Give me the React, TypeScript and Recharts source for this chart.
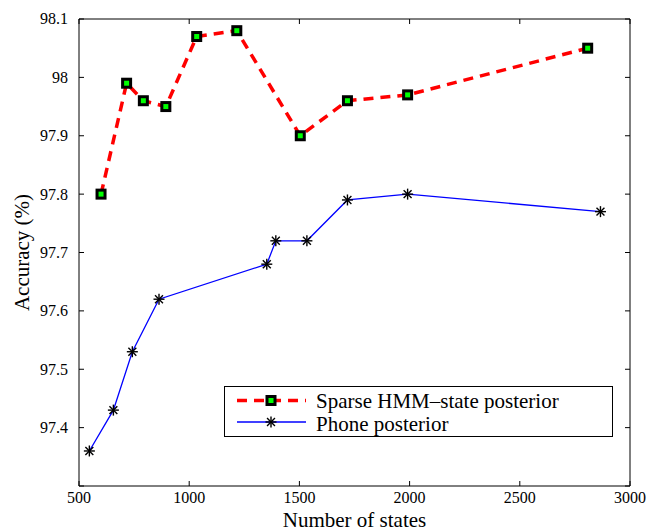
import { Legend, Line, LineChart, XAxis, YAxis } from "recharts";

const sparseStates = [600, 716, 792, 894, 1034, 1216, 1504, 1718, 1991, 2808];
const sparseAcc = [97.8, 97.99, 97.96, 97.95, 98.07, 98.08, 97.9, 97.96, 97.97, 98.05];

const phoneStates = [547, 656, 742, 863, 1352, 1393, 1534, 1718, 1991, 2866];
const phoneAcc = [97.36, 97.43, 97.53, 97.62, 97.68, 97.72, 97.72, 97.79, 97.8, 97.77];

const xTicks = [500, 1000, 1500, 2000, 2500, 3000];
const yTicks = [97.3, 97.4, 97.5, 97.6, 97.7, 97.8, 97.9, 98, 98.1];

const sparseData = sparseStates.map((x, i) => ({ x, y: sparseAcc[i] }));
const phoneData = phoneStates.map((x, i) => ({ x, y: phoneAcc[i] }));

const font = "Liberation Serif, DejaVu Serif, serif";
const labelStyle = { fill: "#000", fontSize: 21, fontFamily: font };

const fmt = (v: number) => (v === 97.3 ? "" : String(Math.round(v * 10) / 10));

// serif tick labels, drawn at the positions recharts hands over
const XTick = (props: any) => {
  const { x, y, payload } = props;
  return (
    <text x={x} y={y} dy="0.7em" textAnchor="middle" fill="#000" fontSize={16} style={{ fontFamily: font }}>
      {payload.value}
    </text>
  );
};

const YTick = (props: any) => {
  const { x, y, payload } = props;
  return (
    <text x={x} y={y} dy="0.34em" textAnchor="end" fill="#000" fontSize={16} style={{ fontFamily: font }}>
      {fmt(payload.value)}
    </text>
  );
};

const SquareDot = (props: any) => {
  const { cx, cy } = props;
  if (cx == null || cy == null) return null;
  return (
    <g>
      <rect x={cx - 5.5} y={cy - 5.5} width={11} height={11} fill="#000" />
      <rect x={cx - 2.5} y={cy - 2.5} width={5} height={5} fill="#00ff00" />
    </g>
  );
};

const StarDot = (props: any) => {
  const { cx, cy } = props;
  if (cx == null || cy == null) return null;
  const r = 5.5;
  const d = r * 0.72;
  return (
    <g stroke="#000" strokeWidth={1.4}>
      <line x1={cx} y1={cy - r} x2={cx} y2={cy + r} />
      <line x1={cx - r} y1={cy} x2={cx + r} y2={cy} />
      <line x1={cx - d} y1={cy - d} x2={cx + d} y2={cy + d} />
      <line x1={cx - d} y1={cy + d} x2={cx + d} y2={cy - d} />
    </g>
  );
};

const LegendBox = () => (
  <div
    style={{
      border: "1px solid #000",
      background: "#fff",
      width: 387,
      height: 49,
    }}
  >
    <svg width={389} height={51} style={{ position: "absolute", left: 0, top: 0 }}>
      <line x1={13} y1={14.5} x2={82} y2={14.5} stroke="#ff0000" strokeWidth={3.5} strokeDasharray="10 7" />
      <SquareDot cx={47} cy={14.5} />
      <line x1={13} y1={36} x2={82} y2={36} stroke="#0000ff" strokeWidth={1.3} />
      <StarDot cx={47} cy={36} />
      <text x={92} y={22} fontSize={21} fill="#000" style={{ fontFamily: font }}>
        Sparse HMM–state posterior
      </text>
      <text x={92} y={45} fontSize={21} fill="#000" style={{ fontFamily: font }}>
        Phone posterior
      </text>
    </svg>
  </div>
);

export default function App() {
  return (
    <div style={{ position: "absolute", left: 0, top: 0, background: "#fff", fontFamily: font }}>
      <LineChart width={648} height={532} margin={{ top: 0, right: 0, bottom: 0, left: 0 }} style={{ fontFamily: font }}>
        <XAxis
          xAxisId="b"
          type="number"
          dataKey="x"
          domain={[500, 3000]}
          ticks={xTicks}
          allowDataOverflow
          height={46}
          stroke="#000"
          tickSize={-5}
          tickMargin={11}
          tick={<XTick />}
          label={{
            value: "Number of states",
            position: "insideBottom",
            offset: 5,
            style: labelStyle,
          }}
        />
        <XAxis
          xAxisId="t"
          orientation="top"
          type="number"
          dataKey="x"
          domain={[500, 3000]}
          ticks={xTicks}
          allowDataOverflow
          height={19}
          stroke="#000"
          tickSize={-5}
          tickFormatter={() => ""}
        />
        <YAxis
          yAxisId="l"
          type="number"
          dataKey="y"
          domain={[97.3, 98.1]}
          ticks={yTicks}
          allowDataOverflow
          width={79}
          stroke="#000"
          tickSize={-5}
          tickMargin={16}
          tick={<YTick />}
          label={{
            value: "Accuracy (%)",
            angle: -90,
            position: "center",
            dx: -18,
            style: labelStyle,
          }}
        />
        <YAxis
          yAxisId="r"
          orientation="right"
          type="number"
          dataKey="y"
          domain={[97.3, 98.1]}
          ticks={yTicks}
          allowDataOverflow
          width={18}
          stroke="#000"
          tickSize={-5}
          tickFormatter={() => ""}
        />
        <Line
          xAxisId="b"
          yAxisId="l"
          data={sparseData}
          dataKey="y"
          name="Sparse HMM–state posterior"
          type="linear"
          stroke="#ff0000"
          strokeWidth={3.5}
          strokeDasharray="10 7"
          dot={<SquareDot />}
          isAnimationActive={false}
        />
        <Line
          xAxisId="t"
          yAxisId="r"
          data={phoneData}
          dataKey="y"
          name="Phone posterior"
          type="linear"
          stroke="#0000ff"
          strokeWidth={1.3}
          dot={<StarDot />}
          isAnimationActive={false}
        />
        <Legend
          layout="horizontal"
          verticalAlign="middle"
          align="center"
          wrapperStyle={{ left: 224, top: 386, width: 389, height: 51 }}
          content={() => <LegendBox />}
        />
      </LineChart>
    </div>
  );
}
